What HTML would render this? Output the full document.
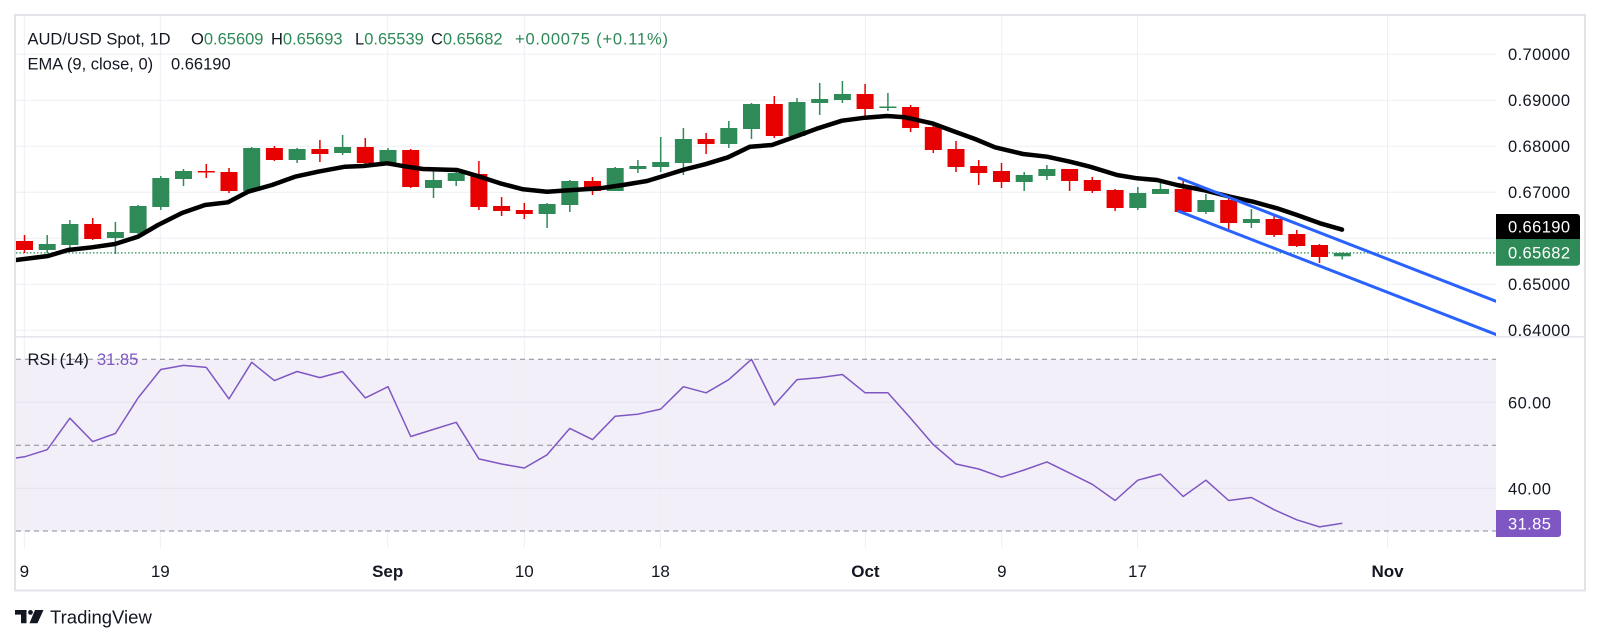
<!DOCTYPE html>
<html><head><meta charset="utf-8">
<style>
html,body{margin:0;padding:0;background:#fff;width:1601px;height:644px;overflow:hidden}
svg{display:block}
text{font-family:"Liberation Sans",sans-serif}
</style></head>
<body>
<svg width="1601" height="644" viewBox="0 0 1601 644" xmlns="http://www.w3.org/2000/svg">
<defs>
<clipPath id="pp"><rect x="16" y="16" width="1480" height="320.5"/></clipPath>
<clipPath id="pa"><rect x="1496" y="16" width="89" height="320.5"/></clipPath>
</defs>
<rect width="1601" height="644" fill="#fff"/>

<!-- RSI fill -->
<rect x="16" y="359.3" width="1480" height="171.7" fill="#f2eff9"/>

<!-- vertical grid -->
<g stroke="#eeeff3" stroke-width="1">
<line x1="24.3" y1="16" x2="24.3" y2="548"/>
<line x1="160.3" y1="16" x2="160.3" y2="548"/>
<line x1="387.7" y1="16" x2="387.7" y2="548"/>
<line x1="524.3" y1="16" x2="524.3" y2="548"/>
<line x1="660.4" y1="16" x2="660.4" y2="548"/>
<line x1="865.4" y1="16" x2="865.4" y2="548"/>
<line x1="1001.8" y1="16" x2="1001.8" y2="548"/>
<line x1="1137.5" y1="16" x2="1137.5" y2="548"/>
<line x1="1387.5" y1="16" x2="1387.5" y2="548"/>
</g>
<!-- horizontal grid price -->
<g stroke="#eeeff3" stroke-width="1">
<line x1="16" y1="54.3" x2="1496" y2="54.3"/>
<line x1="16" y1="100.3" x2="1496" y2="100.3"/>
<line x1="16" y1="146.3" x2="1496" y2="146.3"/>
<line x1="16" y1="192.3" x2="1496" y2="192.3"/>
<line x1="16" y1="238.3" x2="1496" y2="238.3"/>
<line x1="16" y1="284.3" x2="1496" y2="284.3"/>
<line x1="16" y1="330.3" x2="1496" y2="330.3"/>
</g>
<g stroke="#e4e1ee" stroke-width="1">
<line x1="16" y1="402.3" x2="1496" y2="402.3"/>
<line x1="16" y1="488.3" x2="1496" y2="488.3"/>
</g>
<!-- RSI dashed levels -->
<g stroke="#8a8d96" stroke-width="1" stroke-dasharray="5,4">
<line x1="16" y1="359.3" x2="1496" y2="359.3"/>
<line x1="16" y1="445.3" x2="1496" y2="445.3"/>
<line x1="16" y1="531" x2="1496" y2="531"/>
</g>

<!-- pane separator -->
<line x1="16" y1="336.8" x2="1585" y2="336.8" stroke="#e0e3eb" stroke-width="1.3"/>
<!-- outer border -->
<rect x="15" y="15" width="1570" height="575.5" fill="none" stroke="#e3e4ea" stroke-width="2"/>

<g clip-path="url(#pp)">
<!-- close dotted line -->
<line x1="16" y1="252.9" x2="1496" y2="252.9" stroke="#2e8a57" stroke-width="1.3" stroke-dasharray="1.5,2"/>

<!-- wicks green -->
<g stroke="#2e8a57" stroke-width="1.5">
<line x1="47.2" y1="235" x2="47.2" y2="253"/>
<line x1="69.9" y1="220" x2="69.9" y2="248"/>
<line x1="115.4" y1="222" x2="115.4" y2="254"/>
<line x1="138.1" y1="205" x2="138.1" y2="234"/>
<line x1="160.8" y1="176" x2="160.8" y2="210"/>
<line x1="183.5" y1="169" x2="183.5" y2="186"/>
<line x1="251.7" y1="147" x2="251.7" y2="191"/>
<line x1="297.1" y1="148" x2="297.1" y2="163"/>
<line x1="342.6" y1="135" x2="342.6" y2="155"/>
<line x1="388.0" y1="148" x2="388.0" y2="165"/>
<line x1="433.5" y1="169" x2="433.5" y2="198"/>
<line x1="456.2" y1="172" x2="456.2" y2="186"/>
<line x1="547.1" y1="203" x2="547.1" y2="228"/>
<line x1="569.8" y1="180" x2="569.8" y2="212"/>
<line x1="615.2" y1="167" x2="615.2" y2="191"/>
<line x1="637.9" y1="160" x2="637.9" y2="173"/>
<line x1="660.7" y1="137" x2="660.7" y2="172"/>
<line x1="683.4" y1="128" x2="683.4" y2="175"/>
<line x1="728.8" y1="121" x2="728.8" y2="148"/>
<line x1="751.5" y1="103" x2="751.5" y2="139"/>
<line x1="797.0" y1="98" x2="797.0" y2="136"/>
<line x1="819.7" y1="83" x2="819.7" y2="115"/>
<line x1="842.4" y1="81" x2="842.4" y2="103"/>
<line x1="887.9" y1="93" x2="887.9" y2="111"/>
<line x1="1024.2" y1="172" x2="1024.2" y2="191"/>
<line x1="1046.9" y1="165" x2="1046.9" y2="180"/>
<line x1="1137.8" y1="187" x2="1137.8" y2="210"/>
<line x1="1160.5" y1="183" x2="1160.5" y2="194"/>
<line x1="1205.9" y1="194" x2="1205.9" y2="214"/>
<line x1="1251.4" y1="209" x2="1251.4" y2="228"/>
<line x1="1342.3" y1="252.4" x2="1342.3" y2="259.5"/>
</g>
<!-- wicks red -->
<g stroke="#e60000" stroke-width="1.5">
<line x1="24.5" y1="235" x2="24.5" y2="253"/>
<line x1="92.7" y1="218" x2="92.7" y2="240"/>
<line x1="206.3" y1="164" x2="206.3" y2="178"/>
<line x1="229.0" y1="168" x2="229.0" y2="193"/>
<line x1="274.4" y1="146" x2="274.4" y2="161"/>
<line x1="319.9" y1="140" x2="319.9" y2="162"/>
<line x1="365.3" y1="138" x2="365.3" y2="168"/>
<line x1="410.7" y1="149" x2="410.7" y2="188"/>
<line x1="478.9" y1="161" x2="478.9" y2="210"/>
<line x1="501.6" y1="197" x2="501.6" y2="216"/>
<line x1="524.3" y1="203" x2="524.3" y2="219"/>
<line x1="592.5" y1="177" x2="592.5" y2="195"/>
<line x1="706.1" y1="133" x2="706.1" y2="154"/>
<line x1="774.3" y1="96" x2="774.3" y2="138"/>
<line x1="865.1" y1="84" x2="865.1" y2="120"/>
<line x1="910.6" y1="105" x2="910.6" y2="132"/>
<line x1="933.3" y1="122" x2="933.3" y2="153"/>
<line x1="956.0" y1="141" x2="956.0" y2="172"/>
<line x1="978.7" y1="160" x2="978.7" y2="185"/>
<line x1="1001.5" y1="163" x2="1001.5" y2="188"/>
<line x1="1069.6" y1="169" x2="1069.6" y2="191"/>
<line x1="1092.3" y1="177" x2="1092.3" y2="193"/>
<line x1="1115.1" y1="189" x2="1115.1" y2="211"/>
<line x1="1183.2" y1="181" x2="1183.2" y2="214"/>
<line x1="1228.7" y1="196" x2="1228.7" y2="231"/>
<line x1="1274.1" y1="215" x2="1274.1" y2="237"/>
<line x1="1296.8" y1="230" x2="1296.8" y2="247"/>
<line x1="1319.5" y1="244" x2="1319.5" y2="263"/>
</g>
<!-- bodies green -->
<g fill="#2e8a57">
<rect x="38.7" y="244" width="17" height="6"/>
<rect x="61.4" y="224" width="17" height="21"/>
<rect x="106.9" y="232" width="17" height="6"/>
<rect x="129.6" y="206" width="17" height="27"/>
<rect x="152.3" y="178" width="17" height="29"/>
<rect x="175" y="171" width="17" height="8"/>
<rect x="243.2" y="148" width="17" height="43"/>
<rect x="288.6" y="149" width="17" height="11"/>
<rect x="334.1" y="147" width="17" height="6"/>
<rect x="379.5" y="150" width="17" height="13"/>
<rect x="425" y="180" width="17" height="8"/>
<rect x="447.7" y="173" width="17" height="8"/>
<rect x="538.6" y="204" width="17" height="10"/>
<rect x="561.3" y="181" width="17" height="24"/>
<rect x="606.7" y="168" width="17" height="23"/>
<rect x="629.4" y="166" width="17" height="3"/>
<rect x="652.2" y="162" width="17" height="5"/>
<rect x="674.9" y="139" width="17" height="24"/>
<rect x="720.3" y="128" width="17" height="16"/>
<rect x="743" y="104" width="17" height="25"/>
<rect x="788.5" y="102" width="17" height="34"/>
<rect x="811.2" y="99" width="17" height="4"/>
<rect x="833.9" y="94" width="17" height="6"/>
<rect x="879.4" y="106.5" width="17" height="1.5"/>
<rect x="1015.7" y="175" width="17" height="7"/>
<rect x="1038.4" y="169" width="17" height="7"/>
<rect x="1129.3" y="193" width="17" height="15"/>
<rect x="1152" y="189" width="17" height="5"/>
<rect x="1197.4" y="200" width="17" height="12"/>
<rect x="1242.9" y="219" width="17" height="4"/>
<rect x="1333.8" y="252.9" width="17" height="3.4"/>
</g>
<!-- bodies red -->
<g fill="#e60000">
<rect x="16" y="241" width="17" height="9"/>
<rect x="84.2" y="224" width="17" height="15"/>
<rect x="197.8" y="171" width="17" height="1.5"/>
<rect x="220.5" y="172" width="17" height="19"/>
<rect x="265.9" y="148" width="17" height="12"/>
<rect x="311.4" y="149" width="17" height="5"/>
<rect x="356.8" y="147" width="17" height="16"/>
<rect x="402.2" y="150" width="17" height="37"/>
<rect x="470.4" y="174" width="17" height="33"/>
<rect x="493.1" y="206" width="17" height="5"/>
<rect x="515.8" y="210" width="17" height="4"/>
<rect x="584" y="181" width="17" height="10"/>
<rect x="697.6" y="139" width="17" height="5"/>
<rect x="765.8" y="104" width="17" height="32"/>
<rect x="856.6" y="94" width="17" height="15"/>
<rect x="902.1" y="107" width="17" height="21"/>
<rect x="924.8" y="127" width="17" height="23"/>
<rect x="947.5" y="149" width="17" height="18"/>
<rect x="970.2" y="166" width="17" height="7"/>
<rect x="993" y="171" width="17" height="11"/>
<rect x="1061.1" y="169" width="17" height="12"/>
<rect x="1083.8" y="180" width="17" height="11"/>
<rect x="1106.6" y="190" width="17" height="18"/>
<rect x="1174.7" y="189" width="17" height="23"/>
<rect x="1220.2" y="200" width="17" height="23"/>
<rect x="1265.6" y="219" width="17" height="16"/>
<rect x="1288.3" y="234" width="17" height="12"/>
<rect x="1311" y="245" width="17" height="12"/>
</g>

<!-- EMA -->
<polyline fill="none" stroke="#000" stroke-width="4.5" stroke-linejoin="round" stroke-linecap="round"
points="16,260 48,256 68,250 92,247.3 115,244 138,236.7 158,225 182,213 205,205 228,202.3 248,191.7 272,185 295,176.7 318,171.7 345,166.7 363,166 387,163.3 407,166.7 423,169 457,170 480,176.7 500,183.3 523,189.3 547,191.7 573,190 600,188.3 623,185 647,181 670,174 685,169.3 705,164.3 728,157.3 750,146.7 772,145 795,136.7 818,128.3 842,120.7 865,117.7 887,116 905,117.3 932,123.3 955,131.7 975,139 995,147.3 1023,154 1047,156.7 1070,161.7 1090,166.7 1117,175 1137,178.3 1157,180 1177,185 1203,190 1230,196.7 1253,201.7 1277,208.3 1297,215 1320,223.3 1342,229.6"/>

<!-- channel -->
<g stroke="#2962ff" stroke-width="3" stroke-linecap="round">
<line x1="1179" y1="178" x2="1497" y2="301.6"/>
<line x1="1179" y1="211.3" x2="1497" y2="334.9"/>
</g>
</g>

<!-- RSI line -->
<polyline fill="none" stroke="#7e57c2" stroke-width="1.5" stroke-linejoin="round"
points="16,458 24.5,456.8 47.2,449.7 69.9,418.2 92.7,441.6 115.4,433.5 138.1,397.9 160.8,369.5 183.5,365.4 206.3,367.4 229.0,398.9 251.7,362.3 274.4,380.6 297.1,371.5 319.9,377.6 342.6,371.5 365.3,397.9 388.0,386.7 410.7,436.5 433.5,429.4 456.2,422.3 478.9,458.9 501.6,464 524.3,468 547.1,454.8 569.8,428.4 592.5,439.6 615.2,416.2 637.9,414.2 660.7,409.1 683.4,386.7 706.1,392.8 728.8,379.6 751.5,359.3 774.3,405 797.0,379.6 819.7,377.6 842.4,374.5 865.1,392.8 887.9,392.8 910.6,418.2 933.3,444.6 956.0,464 978.7,469 1001.5,477.2 1024.2,470 1046.9,461.9 1069.6,473.1 1092.3,484.3 1115.1,500.5 1137.8,480.2 1160.5,474.1 1183.2,496.5 1205.9,480.2 1228.7,500.5 1251.4,497.5 1274.1,509.7 1296.8,519.8 1319.5,526.9 1342.3,523.3"/>

<!-- legend -->
<g font-size="16.5" fill="#131722">
<text x="27.5" y="44.3">AUD/USD Spot, 1D</text>
<text x="191" y="44.3">O<tspan fill="#2e8a57">0.65609</tspan></text>
<text x="271" y="44.3">H<tspan fill="#2e8a57">0.65693</tspan></text>
<text x="355" y="44.3">L<tspan fill="#2e8a57">0.65539</tspan></text>
<text x="431" y="44.3">C<tspan fill="#2e8a57">0.65682</tspan></text>
<text x="515" y="44.3" fill="#2e8a57" textLength="153" lengthAdjust="spacing">+0.00075 (+0.11%)</text>
<text x="27.5" y="69.3">EMA (9, close, 0)</text>
<text x="171" y="69.3">0.66190</text>
<text x="27.5" y="365">RSI (14)</text>
<text x="97" y="365" fill="#7e57c2">31.85</text>
</g>

<!-- price axis -->
<g font-size="16.5" fill="#131722" letter-spacing="0.4" clip-path="url(#pa)">
<text x="1508" y="60.2">0.70000</text>
<text x="1508" y="106.2">0.69000</text>
<text x="1508" y="152.2">0.68000</text>
<text x="1508" y="198.2">0.67000</text>
<text x="1508" y="290.2">0.65000</text>
<text x="1508" y="336.2">0.64000</text>
</g>
<path d="M1496,214 H1577 a3,3 0 0 1 3,3 V239 H1496 Z" fill="#000"/>
<path d="M1496,239 H1580 V262.7 a3,3 0 0 1 -3,3 H1496 Z" fill="#2e8a57"/>
<g font-size="16.5" fill="#fff" letter-spacing="0.4">
<text x="1508" y="232.6">0.66190</text>
<text x="1508" y="258.5">0.65682</text>
</g>

<!-- RSI axis -->
<g font-size="16.5" fill="#131722" letter-spacing="0.4">
<text x="1508" y="408.5">60.00</text>
<text x="1508" y="494.5">40.00</text>
</g>
<path d="M1496,510 H1558 a3,3 0 0 1 3,3 V534 a3,3 0 0 1 -3,3 H1496 Z" fill="#7e57c2"/>
<text x="1508" y="529.4" font-size="16.5" fill="#fff" letter-spacing="0.4">31.85</text>

<!-- time axis -->
<g font-size="17" fill="#131722" text-anchor="middle">
<text x="24.3" y="577">9</text>
<text x="160.3" y="577">19</text>
<text x="387.7" y="577" font-weight="bold">Sep</text>
<text x="524.3" y="577">10</text>
<text x="660.4" y="577">18</text>
<text x="865.4" y="577" font-weight="bold">Oct</text>
<text x="1001.8" y="577">9</text>
<text x="1137.5" y="577">17</text>
<text x="1387.5" y="577" font-weight="bold">Nov</text>
</g>

<!-- TradingView logo -->
<g fill="#131722">
<path d="M15,610 H26.5 V623.3 H21 V614.6 H15 Z"/>
<circle cx="30.5" cy="612.4" r="2.4"/>
<path d="M35,610 H43.5 L37.5,623.3 H29.5 Z"/>
<text x="50" y="623.3" font-size="18.5">TradingView</text>
</g>
</svg>
</body></html>
